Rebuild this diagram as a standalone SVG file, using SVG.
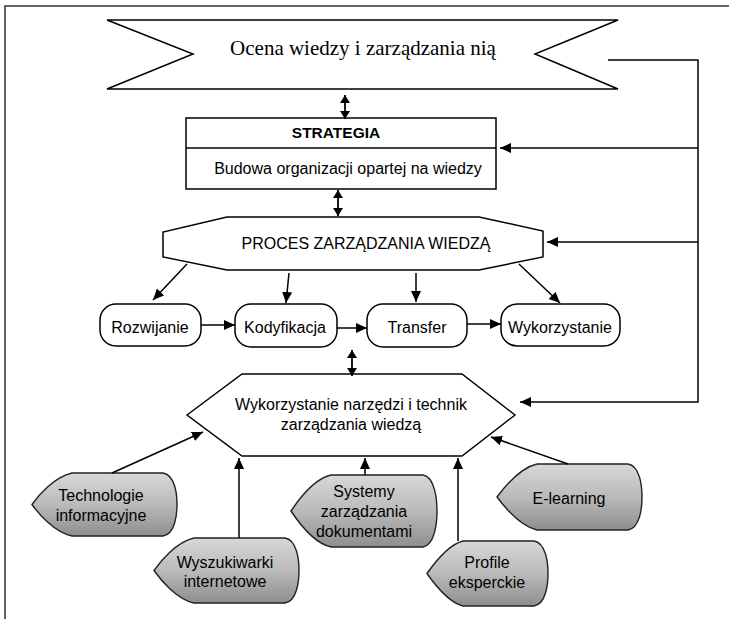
<svg xmlns="http://www.w3.org/2000/svg" width="729" height="619" viewBox="0 0 729 619">
<defs>
<marker id="ah" markerUnits="userSpaceOnUse" markerWidth="12" markerHeight="11" refX="11" refY="5" orient="auto-start-reverse">
<path d="M0,0 L11,5 L0,10 Z" fill="#000"/>
</marker>
<marker id="ah2" markerUnits="userSpaceOnUse" markerWidth="9" markerHeight="11" refX="8" refY="5" orient="auto-start-reverse">
<path d="M0,0 L8,5 L0,10 Z" fill="#000"/>
</marker>
<linearGradient id="gr" x1="0" y1="0" x2="0" y2="1">
<stop offset="0" stop-color="#d8d8d8"/>
<stop offset="0.5" stop-color="#bababa"/>
<stop offset="1" stop-color="#8e8e8e"/>
</linearGradient>
</defs>
<style>
.ln{fill:none;stroke:#000;stroke-width:1.5}
.ar{fill:none;stroke:#000;stroke-width:1.5;marker-end:url(#ah)}
.dar{fill:none;stroke:#000;stroke-width:1.8;marker-end:url(#ah2);marker-start:url(#ah2)}
.box{fill:#fff;stroke:#000;stroke-width:1.5}
.gb{fill:url(#gr);stroke:#222;stroke-width:1.4}
.t{font-family:"Liberation Sans",Arial,sans-serif;font-size:16px;fill:#000;text-anchor:middle}
.ts{font-family:"Liberation Serif","Times New Roman",serif;font-size:21px;fill:#000;text-anchor:middle}
.b{font-weight:bold;font-size:15.5px}
</style>
<rect width="729" height="619" fill="#fff"/>
<path d="M5,619 V6 H729" fill="none" stroke="#333" stroke-width="1.5"/>

<g id="ocena">
<polygon class="box" points="107,20 618,20 535,54 618,89 107,89 193,54"/>
<text class="ts" x="363" y="55">Ocena wiedzy i zarządzania nią</text>
</g>

<g id="strategia">
<rect class="box" x="186" y="118" width="310" height="71"/>
<line class="ln" x1="186" y1="148" x2="496" y2="148"/>
<text class="t b" x="336" y="138">STRATEGIA</text>
<text class="t" x="348" y="174">Budowa organizacji opartej na wiedzy</text>
</g>

<g id="proces">
<polygon class="box" points="227,217 479,217 543,231 543,257 479,270 227,270 163,257 163,232"/>
<text class="t" x="366" y="249">PROCES ZARZĄDZANIA WIEDZĄ</text>
</g>

<g id="rozwijanie">
<rect class="box" x="100" y="304" width="101" height="42" rx="16"/>
<text class="t" x="150" y="333">Rozwijanie</text>
</g>
<g id="kodyfikacja">
<rect class="box" x="235" y="304" width="102" height="43" rx="16"/>
<text class="t" x="285" y="333">Kodyfikacja</text>
</g>
<g id="transfer">
<rect class="box" x="367" y="304" width="100" height="43" rx="16"/>
<text class="t" x="417" y="333">Transfer</text>
</g>
<g id="wykorzystanie">
<rect class="box" x="501" y="304" width="119" height="42" rx="16"/>
<text class="t" x="560" y="333">Wykorzystanie</text>
</g>

<g id="narzedzia">
<polygon class="box" points="187,415 242,374 462,374 515,415 462,456 242,456"/>
<text class="t" x="351" y="410">Wykorzystanie narzędzi i technik</text>
<text class="t" x="351" y="430">zarządzania wiedzą</text>
</g>

<g id="technologie">
<path class="gb" d="M72,473 H163 C175,475 177,494 177,504.5 C177,515 175,534 163,536 H72 C54,532 38,513 32,504.5 C38,496 54,477 72,473 Z"/>
<text class="t" x="101" y="501">Technologie</text>
<text class="t" x="101" y="521">informacyjne</text>
</g>
<g id="wyszukiwarki">
<path class="gb" d="M194,538 H285 C297,540 299,560 299,570.5 C299,581 297,601 285,603 H194 C176,599 160,579 154,570.5 C160,562 176,542 194,538 Z"/>
<text class="t" x="225" y="568">Wyszukiwarki</text>
<text class="t" x="225" y="587">internetowe</text>
</g>
<g id="systemy">
<path class="gb" d="M331,475 H423 C435,477 437,500 437,511 C437,522 435,545 423,547 H331 C313,543 297,520 291,511 C297,502 313,479 331,475 Z"/>
<text class="t" x="364" y="497">Systemy</text>
<text class="t" x="364" y="517">zarządzania</text>
<text class="t" x="364" y="537">dokumentami</text>
</g>
<g id="profile">
<path class="gb" d="M463,541 H534 C546,543 548,563 548,573.5 C548,584 546,604 534,606 H463 C447,602 433,582 427,573.5 C433,565 447,545 463,541 Z"/>
<text class="t" x="487" y="568">Profile</text>
<text class="t" x="487" y="588">eksperckie</text>
</g>
<g id="elearning">
<path class="gb" d="M537,464 H628 C640,466 642,486 642,497 C642,508 640,528 628,530 H537 C519,526 503,505 497,497 C503,489 519,468 537,464 Z"/>
<text class="t" x="569" y="504">E-learning</text>
</g>

<g id="connectors">
<line class="dar" x1="345" y1="95" x2="345" y2="119"/>
<line class="dar" x1="338" y1="190" x2="338" y2="216"/>
<line class="dar" x1="352" y1="350" x2="352" y2="376"/>
<polyline class="ar" points="608,60 698,60 698,402 520,402"/>
<line class="ar" x1="698" y1="148" x2="500" y2="148"/>
<line class="ar" x1="698" y1="242" x2="547" y2="242"/>
<line class="ar" x1="187" y1="264" x2="153" y2="300"/>
<line class="ar" x1="289" y1="273" x2="286" y2="303"/>
<line class="ar" x1="416" y1="273" x2="416" y2="302"/>
<line class="ar" x1="519" y1="264" x2="560" y2="303"/>
<line class="ar" x1="201" y1="325" x2="235" y2="325"/>
<line class="ar" x1="337" y1="328" x2="367" y2="328"/>
<line class="ar" x1="467" y1="324" x2="501" y2="324"/>
<line class="ar" x1="112" y1="473" x2="203" y2="432"/>
<line class="ar" x1="239" y1="538" x2="239" y2="458"/>
<line class="ar" x1="365" y1="475" x2="365" y2="458"/>
<line class="ar" x1="458" y1="541" x2="458" y2="458"/>
<line class="ar" x1="568" y1="464" x2="491" y2="437"/>
</g>
</svg>
